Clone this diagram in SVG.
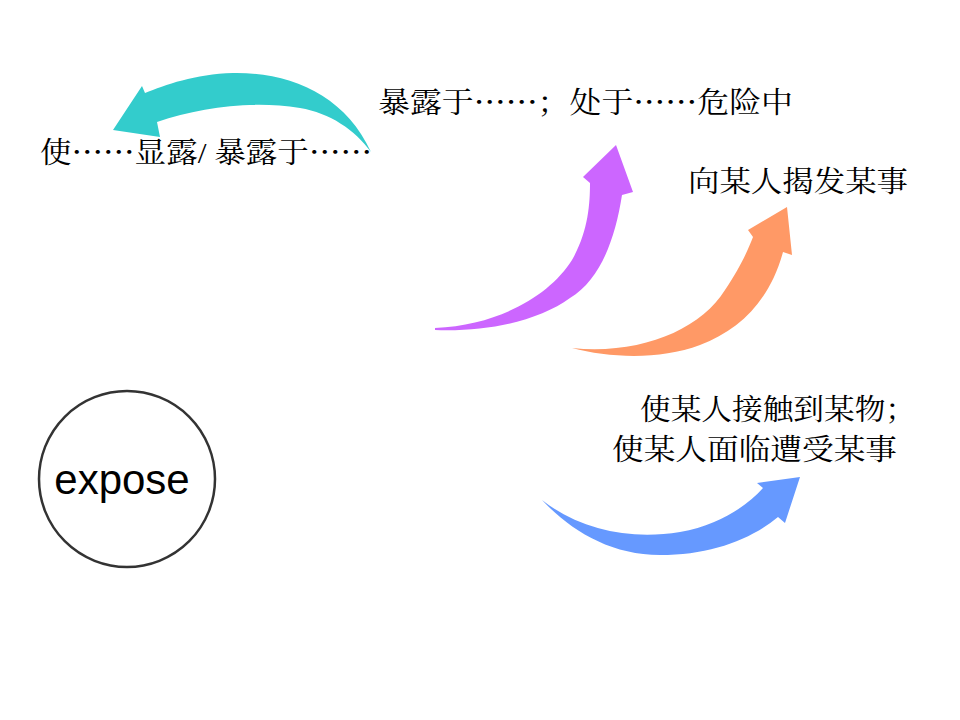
<svg xmlns="http://www.w3.org/2000/svg" width="960" height="720" viewBox="0 0 960 720">
<style>
.cjk{font-family:"Liberation Serif","Noto Serif CJK SC","Noto Sans CJK SC",serif;font-size:29px;fill:#000}
.dots{font-family:"Noto Sans CJK SC","Noto Sans CJK JP",sans-serif}
.lat{font-family:"Liberation Sans",Arial,sans-serif;font-size:42px;fill:#000}
</style>
<rect width="960" height="720" fill="#fff"/>
<g id="connectors">
<path id="arrow-teal" fill="#33CCCC" d="M 371,152 C 345,95 290,72 233,73 C 195,74 165,85 145,93 L 142,86 L 113,130 L 160,137 L 157,122 C 200,108 250,100 300,108 C 330,113 355,130 371,152 Z"/>
<path id="arrow-purple" fill="#CC66FF" d="M 435,328 C 500,325 550,295 572,260 C 588,232 590,205 590,183 L 583,177 L 616,145 L 633,192 L 622,195 C 615,240 600,280 570,298 C 540,320 490,332 435,330 Z"/>
<path id="arrow-orange" fill="#FF9966" d="M 572,348 C 640,355 700,330 725,290 C 740,268 748,250 753,237 L 748,230 L 787,207 L 792,255 L 783,252 C 770,300 740,330 700,345 C 660,360 610,358 572,348 Z"/>
<path id="arrow-blue" fill="#6699FF" d="M 542,500 C 580,530 630,540 680,532 C 720,525 748,505 763,488 L 757,483 L 800,477 L 785,523 L 778,517 C 750,540 710,555 660,555 C 610,555 570,530 542,500 Z"/>
</g>
<g id="node-expose">
<circle cx="127" cy="479" r="88" fill="none" stroke="#333" stroke-width="2.5"/>
<text class="lat" x="122" y="494" text-anchor="middle">expose</text>
</g>
<g id="node-show">
<text class="cjk" x="40" y="163" textLength="332" lengthAdjust="spacingAndGlyphs">使<tspan class="dots">……</tspan>显露/ 暴露于<tspan class="dots">……</tspan></text>
</g>
<g id="node-exposed-to">
<text class="cjk" x="378" y="113" textLength="415" lengthAdjust="spacingAndGlyphs">暴露于<tspan class="dots">……</tspan>；处于<tspan class="dots">……</tspan>危险中</text>
</g>
<g id="node-reveal">
<text class="cjk" x="688" y="192" textLength="220" lengthAdjust="spacingAndGlyphs">向某人揭发某事</text>
</g>
<g id="node-contact">
<text class="cjk" x="640" y="420" textLength="276" lengthAdjust="spacingAndGlyphs">使某人接触到某物；</text>
<text class="cjk" x="612" y="460" textLength="285" lengthAdjust="spacingAndGlyphs">使某人面临遭受某事</text>
</g>
</svg>
